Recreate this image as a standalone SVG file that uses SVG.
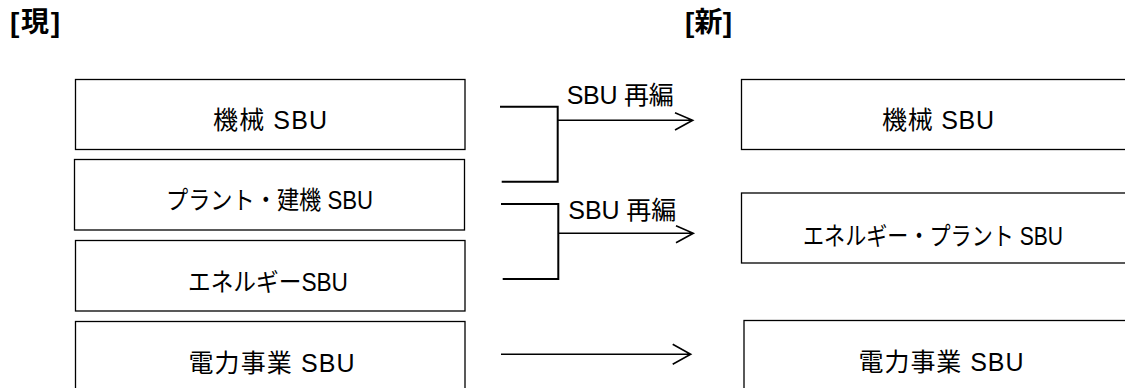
<svg xmlns="http://www.w3.org/2000/svg" width="1125" height="388" viewBox="0 0 1125 388">
<style>
  text { font-family: "Liberation Sans", "Noto Sans CJK JP", sans-serif; fill: #000; }
  .title { font-size: 28px; font-weight: bold; }
  .lbl { font-size: 25px; }
  .box { fill: #fff; stroke: #000; stroke-width: 1.3; }
  .br { fill: none; stroke: #000; stroke-width: 2; }
  .ar { fill: none; stroke: #000; stroke-width: 1.6; }
</style>
<rect width="1125" height="388" fill="#fff"/>
<text class="title" x="10" y="32" textLength="50">[現]</text>
<text class="title" x="685" y="32" textLength="47">[新]</text>

<g id="cur-kikai">
  <rect class="box" x="75.5" y="79.5" width="389.5" height="70"/>
  <text class="lbl" x="213" y="129" textLength="114">機械 SBU</text>
</g>
<g id="cur-plant">
  <rect class="box" x="74.5" y="159.5" width="390" height="70.5"/>
  <text class="lbl" x="166" y="209" textLength="207" lengthAdjust="spacingAndGlyphs">プラント・建機 SBU</text>
</g>
<g id="cur-energy">
  <rect class="box" x="75.5" y="240.5" width="389.5" height="70.5"/>
  <text class="lbl" x="188" y="291" textLength="160" lengthAdjust="spacingAndGlyphs">エネルギーSBU</text>
</g>
<g id="cur-power">
  <rect class="box" x="75.5" y="321.5" width="389.5" height="80"/>
  <text class="lbl" x="188.5" y="372" textLength="166">電力事業 SBU</text>
</g>

<g id="new-kikai">
  <rect class="box" x="741.5" y="79.5" width="400" height="70"/>
  <text class="lbl" x="882" y="129" textLength="112">機械 SBU</text>
</g>
<g id="new-energy-plant">
  <rect class="box" x="741.5" y="193" width="400" height="70"/>
  <text class="lbl" x="803" y="245" textLength="260" lengthAdjust="spacingAndGlyphs">エネルギー・プラント SBU</text>
</g>
<g id="new-power">
  <rect class="box" x="744" y="320.5" width="400" height="80"/>
  <text class="lbl" x="858.5" y="371" textLength="165">電力事業 SBU</text>
</g>

<g id="connectors">
  <path class="br" d="M500 106.7 H557.7 V181.7 H501.7"/>
  <path class="ar" d="M557.7 120.3 H692.7 M675 112.7 L692.7 120.3 L675 130"/>
  <text class="lbl" x="566.7" y="104.3" textLength="107">SBU 再編</text>

  <path class="br" d="M501 204 H558.3 V279 H502.7"/>
  <path class="ar" d="M558.3 233.3 H693.3 M676 225.7 L693.3 233.3 L676 242.7"/>
  <text class="lbl" x="568.3" y="219.3" textLength="108">SBU 再編</text>

  <path class="ar" d="M501 354.3 H690.7 M672.7 344.3 L690.7 354.3 L672.7 364.3"/>
</g>
</svg>
